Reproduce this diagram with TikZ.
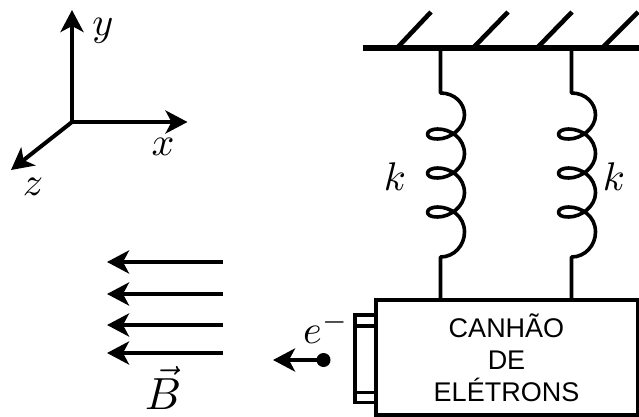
\documentclass[tikz,border=0pt]{standalone}
\usepackage{graphicx}
\usepackage{fontspec}
\setmainfont{Liberation Sans}
\usetikzlibrary{arrows.meta}
\newcommand{\bigmath}[1]{\scalebox{4}{$#1$}}
\newcommand{\hugemath}[1]{\scalebox{4.5}{$#1$}}
\tikzset{
  x=1pt,y=-1pt,
  axisline/.style={line width=4pt,-{Stealth[length=22pt,width=23pt,inset=6pt]}},
  fieldline/.style={line width=4pt,-{Stealth[length=22pt,width=23pt,inset=6pt]}},
  wall/.style={line width=5.5pt},
  hatch/.style={line width=4.6pt},
  wire/.style={line width=3.6pt,line join=round},
  boxline/.style={line width=3.6pt},
  mathlabel/.style={inner sep=0pt},
  boxtext/.style={inner sep=0pt,align=center,font=\fontsize{27}{32}\selectfont}
}
\newcommand{\coilspring}[2]{%
  \draw[wire] (#2) -- ([shift={(0,45)}]#2)
    .. controls ([shift={(14,45)}]#2) and ([shift={(24,55)}]#2) .. ([shift={(24,67)}]#2)
    .. controls ([shift={(24,80)}]#2) and ([shift={(10,91)}]#2) .. ([shift={(-3,91)}]#2)
    .. controls ([shift={(-10,91)}]#2) and ([shift={(-13,89)}]#2) .. ([shift={(-13,86)}]#2)
    .. controls ([shift={(-13,83)}]#2) and ([shift={(-8,81)}]#2) .. ([shift={(-3,81)}]#2)
    .. controls ([shift={(10,81)}]#2) and ([shift={(24,90)}]#2) .. ([shift={(24,106)}]#2)
    .. controls ([shift={(24,119)}]#2) and ([shift={(10,130)}]#2) .. ([shift={(-3,130)}]#2)
    .. controls ([shift={(-10,130)}]#2) and ([shift={(-13,128)}]#2) .. ([shift={(-13,125)}]#2)
    .. controls ([shift={(-13,122)}]#2) and ([shift={(-8,120)}]#2) .. ([shift={(-3,120)}]#2)
    .. controls ([shift={(10,120)}]#2) and ([shift={(24,129)}]#2) .. ([shift={(24,145)}]#2)
    .. controls ([shift={(24,158)}]#2) and ([shift={(10,169)}]#2) .. ([shift={(-3,169)}]#2)
    .. controls ([shift={(-10,169)}]#2) and ([shift={(-13,167)}]#2) .. ([shift={(-13,164)}]#2)
    .. controls ([shift={(-13,161)}]#2) and ([shift={(-8,159)}]#2) .. ([shift={(-3,159)}]#2)
    .. controls ([shift={(10,159)}]#2) and ([shift={(24,168)}]#2) .. ([shift={(24,184)}]#2)
    .. controls ([shift={(24,197)}]#2) and ([shift={(14,209)}]#2) .. ([shift={(0,209)}]#2)
    -- (#1);}
\begin{document}
\begin{tikzpicture}
\useasboundingbox (0,0) rectangle (639,417);
% axes
\coordinate (o) at (72,122);
\coordinate (ay) at (72,10);
\coordinate (ax) at (187.5,122);
\coordinate (az) at (11,170);
\draw[axisline] (o) -- (ay);
\draw[axisline] (o) -- (ax);
\draw[axisline] (o) -- (az);
\node[mathlabel] (ly) at (103,31) {\bigmath{y}};
\node[mathlabel] (lx) at (163,147) {\bigmath{x}};
\node[mathlabel] (lz) at (33,187) {\bigmath{z}};
% field
\foreach \n/\y in {1/262,2/294,3/325,4/353}{
  \coordinate (fa\n) at (223,\y);
  \coordinate (fb\n) at (107,\y);
  \draw[fieldline] (fa\n) -- (fb\n);
}
\node[mathlabel] (lb) at (163,388) {\hugemath{\vec{B}}};
% ceiling
\coordinate (wl) at (363,48);
\coordinate (wr) at (639,48);
\draw[wall] (wl) -- (wr);
\foreach \n/\a/\b in {1/397/431,2/473/508,3/537/572,4/602/638}{
  \coordinate (ha\n) at (\a,48);
  \coordinate (hb\n) at (\b,12);
  \draw[hatch] (ha\n) -- (hb\n);
}
% gun
\node[draw,line width=3.6pt,outer sep=0pt,minimum width=261.5pt,minimum height=115pt,inner sep=0pt,anchor=north west] (gun) at (376,300) {};
\node[boxtext] (t) at (506.5,358) {CANHÃO\\DE\\ELÉTRONS};
\coordinate (ba) at (376,315);
\coordinate (bb) at (355,315);
\coordinate (bc) at (355,402.5);
\coordinate (bd) at (376,402.5);
\coordinate (be) at (355,326);
\coordinate (bf) at (376,326);
\coordinate (bg) at (355,392.5);
\coordinate (bh) at (376,392.5);
\draw[boxline] (ba) -- (bb) -- (bc) -- (bd);
\draw[boxline] (be) -- (bf);
\draw[boxline] (bg) -- (bh);
% springs
\coordinate (s1t) at (440.5,48);
\coordinate (s1b) at (440.5,300);
\coordinate (s2t) at (571.5,48);
\coordinate (s2b) at (571.5,300);
\coilspring{s1b}{s1t}
\coilspring{s2b}{s2t}
\node[mathlabel] (k1) at (395,177) {\bigmath{k}};
\node[mathlabel] (k2) at (614,177) {\bigmath{k}};
% electron
\node[circle,fill=black,inner sep=0pt,outer sep=0pt,minimum size=14pt] (el) at (323.5,360) {};
\coordinate (et) at (273,360);
\draw[fieldline] (el) -- (et);
\node[mathlabel] (le) at (326,328) {\bigmath{e^-}};
\end{tikzpicture}
\end{document}
